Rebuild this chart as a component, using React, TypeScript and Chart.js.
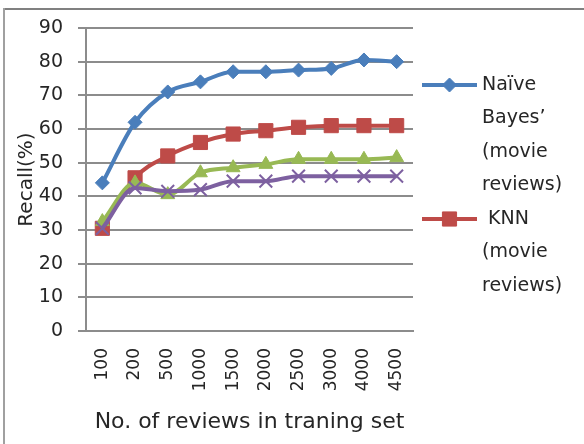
import React, { useEffect, useRef } from 'react';
import { Chart, registerables } from 'chart.js';

Chart.register(...registerables);

const categories = ['100', '200', '500', '1000', '1500', '2000', '2500', '3000', '4000', '4500'];
const naiveBayes = [44, 62, 71, 74, 77, 77, 77.5, 78, 80.5, 80];
const knn = [30.5, 45.5, 52, 56, 58.5, 59.5, 60.5, 61, 61, 61];
const series3 = [32.5, 44, 40.5, 47, 48.5, 49.5, 51, 51, 51, 51.5];
const series4 = [30.5, 42.5, 41.5, 42, 44.5, 44.5, 46, 46, 46, 46];
const yTicks = [0, 10, 20, 30, 40, 50, 60, 70, 80, 90];
const legendNaive = ['Naïve', 'Bayes’', '(movie', 'reviews)'];
const legendKnn = [' KNN', '(movie', 'reviews)'];

const FONT = '"DejaVu Sans", sans-serif';
const TEXT = '#262626';
const GRID = '#8c8c8c';

const BLUE = '#4a7ebb';
const RED = '#be4b48';
const GREEN = '#98b954';
const PURPLE = '#7d60a0';

function drawMarker(ctx: CanvasRenderingContext2D, style: string, x: number, y: number, r: number, color: string) {
  ctx.save();
  ctx.fillStyle = color;
  ctx.strokeStyle = color;
  ctx.lineWidth = 1;
  ctx.beginPath();
  if (style === 'rectRot') {
    ctx.moveTo(x, y - r);
    ctx.lineTo(x + r, y);
    ctx.lineTo(x, y + r);
    ctx.lineTo(x - r, y);
    ctx.closePath();
  } else {
    const s = r * Math.SQRT1_2;
    ctx.rect(x - s, y - s, 2 * s, 2 * s);
  }
  ctx.fill();
  ctx.stroke();
  ctx.restore();
}

const framePlugin = {
  id: 'frame',
  beforeDraw(chart: any) {
    const { ctx, width, height } = chart;
    ctx.save();
    ctx.fillStyle = '#ffffff';
    ctx.fillRect(0, 0, width, height);
    ctx.fillStyle = '#808080';
    ctx.fillRect(3, 8, width - 3, 2);
    ctx.fillStyle = '#a0a0a0';
    ctx.fillRect(3, 8, 2, height - 8);
    ctx.restore();
  },
};

const sideLegendPlugin = {
  id: 'sideLegend',
  afterDraw(chart: any) {
    const { ctx, chartArea } = chart;
    const lh = 33.5;
    const x0 = chartArea.right + 9;
    const x1 = chartArea.right + 64;
    const tx = chartArea.right + 69;
    let y = chartArea.top + 57;
    const items = [
      { lines: legendNaive, ds: 0 },
      { lines: legendKnn, ds: 1 },
    ];
    ctx.save();
    ctx.font = `19px ${FONT}`;
    ctx.textBaseline = 'middle';
    ctx.textAlign = 'left';
    items.forEach((item) => {
      const ds = chart.data.datasets[item.ds];
      ctx.strokeStyle = ds.borderColor;
      ctx.lineWidth = ds.borderWidth;
      ctx.beginPath();
      ctx.moveTo(x0, y);
      ctx.lineTo(x1, y);
      ctx.stroke();
      drawMarker(ctx, ds.pointStyle, (x0 + x1) / 2, y, ds.pointRadius, ds.pointBackgroundColor);
      ctx.fillStyle = TEXT;
      item.lines.forEach((line: string) => {
        ctx.fillText(line, tx, y);
        y += lh;
      });
    });
    ctx.restore();
  },
};

export default function App() {
  const canvasRef = useRef<HTMLCanvasElement | null>(null);

  useEffect(() => {
    if (!canvasRef.current) return;
    const common = {
      borderWidth: 4,
      pointBorderWidth: 1,
      cubicInterpolationMode: 'monotone',
    };
    const chart = new Chart(canvasRef.current, {
      type: 'line',
      data: {
        labels: categories,
        datasets: [
          {
            ...common,
            label: 'Naïve Bayes’ (movie reviews)',
            data: naiveBayes,
            borderColor: BLUE,
            backgroundColor: BLUE,
            pointBackgroundColor: BLUE,
            pointBorderColor: BLUE,
            pointStyle: 'rectRot',
            pointRadius: 7,
            order: 3,
          },
          {
            ...common,
            label: 'KNN (movie reviews)',
            data: knn,
            borderColor: RED,
            backgroundColor: RED,
            pointBackgroundColor: RED,
            pointBorderColor: RED,
            pointStyle: 'rect',
            pointRadius: 10,
            order: 2,
          },
          {
            ...common,
            label: 'Series 3',
            data: series3,
            borderColor: GREEN,
            backgroundColor: GREEN,
            pointBackgroundColor: GREEN,
            pointBorderColor: GREEN,
            pointStyle: 'triangle',
            pointRadius: 8,
            order: 1,
          },
          {
            ...common,
            label: 'Series 4',
            data: series4,
            borderColor: PURPLE,
            backgroundColor: PURPLE,
            pointBackgroundColor: PURPLE,
            pointBorderColor: PURPLE,
            pointStyle: 'crossRot',
            pointRadius: 9,
            pointBorderWidth: 2,
            order: 0,
          },
        ],
      },
      options: {
        animation: false,
        responsive: true,
        maintainAspectRatio: false,
        layout: { padding: { left: 0, top: 28, right: 171, bottom: 0 } },
        plugins: {
          legend: { display: false },
          tooltip: { enabled: false },
        },
        scales: {
          x: {
            offset: true,
            grid: { display: false, drawTicks: false },
            border: { display: true, color: GRID, width: 2 },
            ticks: {
              autoSkip: false,
              minRotation: 90,
              maxRotation: 90,
              padding: 17,
              color: TEXT,
              font: { family: FONT, size: 17 },
            },
            title: {
              display: true,
              text: 'No. of reviews in traning set',
              color: TEXT,
              font: { family: FONT, size: 22 },
              padding: { top: 0, bottom: 9 },
            },
            afterFit: (s: any) => {
              s.height = 113;
            },
          },
          y: {
            min: 0,
            max: 90,
            afterBuildTicks: (s: any) => {
              s.ticks = yTicks.map((v) => ({ value: v }));
            },
            grid: { color: GRID, lineWidth: 2, tickLength: 8, drawTicks: true },
            border: { display: true, color: GRID, width: 2 },
            ticks: {
              padding: 15,
              color: TEXT,
              font: { family: FONT, size: 19 },
            },
            title: {
              display: true,
              text: 'Recall(%)',
              color: TEXT,
              font: { family: FONT, size: 20 },
              padding: { top: 15, bottom: 0 },
            },
            afterFit: (s: any) => {
              s.width = 86;
            },
          },
        },
      },
      plugins: [framePlugin, sideLegendPlugin],
    } as any);
    return () => chart.destroy();
  }, []);

  return (
    <div style={{ position: 'absolute', left: 0, top: 0, width: 584, height: 444, background: '#fff' }}>
      <canvas ref={canvasRef} />
    </div>
  );
}
